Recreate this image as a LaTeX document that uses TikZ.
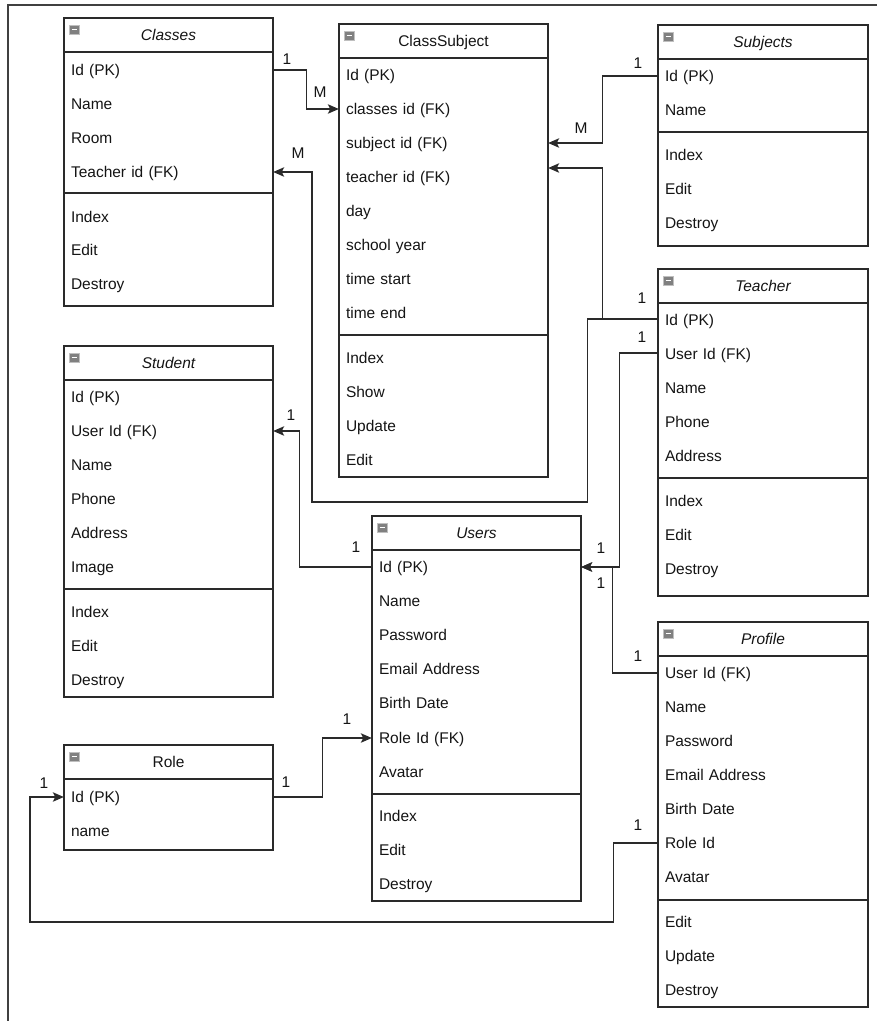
\documentclass[tikz,border=0pt]{standalone}
\usepackage{fontspec}
\setmainfont{Liberation Sans}
\usetikzlibrary{arrows.meta,calc}
\definecolor{txt}{HTML}{141414}
\definecolor{ln}{HTML}{2A2A2A}
\tikzset{
  box/.style={draw=ln, line width=1.1pt},
  conn/.style={draw=ln, line width=1.1pt, -{Stealth[length=11pt,width=9.5pt,inset=2.5pt]}},
  row/.style={anchor=center, text width=195pt, inner xsep=7pt, inner ysep=0pt, align=left,
    font=\fontsize{15.5}{18}\selectfont, text=txt, text height=10.7pt, text depth=3.3pt, yshift=-2pt},
  ttl/.style={anchor=center, inner sep=0pt, font=\fontsize{15.5}{18}\selectfont, text=txt,
    text height=10.7pt, text depth=3.3pt, yshift=-2pt},
  lbl/.style={anchor=center, inner sep=0pt, font=\fontsize{15.5}{18}\selectfont, text=txt},
  iconbox/.style={fill=black!50, draw=black!25, line width=0.8pt},
  frameline/.style={draw=black!75, line width=1.2pt}
}
\newcommand\Rw[4]{\node[row] (#1) at (#2,#3) {#4};}
\newcommand\ERicon[2]{%
  \draw[iconbox] (#1+5,#2+7) rectangle (#1+15,#2+16);
  \draw[white, line width=1.2pt] (#1+7.5,#2+11.5) -- (#1+12.5,#2+11.5);}
\begin{document}
\begin{tikzpicture}[x=1pt,y=-1pt]
\useasboundingbox (0,0) rectangle (877,1021);
\draw[frameline] (8,1021) -- (8,5) -- (877,5);

% ---------- Classes
\draw[box] (64,18) rectangle (273,306);
\draw[box] (64,52) -- (273,52);
\draw[box] (64,193) -- (273,193);
\ERicon{64}{18}
\node[ttl] (classes) at (168.5,35) {\itshape Classes};
\Rw{classes-id}{168.5}{70}{Id (PK)}
\Rw{classes-name}{168.5}{104}{Name}
\Rw{classes-room}{168.5}{138}{Room}
\Rw{classes-teacher}{168.5}{172}{Teacher id (FK)}
\Rw{classes-index}{168.5}{217}{Index}
\Rw{classes-edit}{168.5}{250}{Edit}
\Rw{classes-destroy}{168.5}{284}{Destroy}

% ---------- ClassSubject
\draw[box] (339,24) rectangle (548,477);
\draw[box] (339,58) -- (548,58);
\draw[box] (339,335) -- (548,335);
\ERicon{339}{24}
\node[ttl] (cs) at (443.5,41) {ClassSubject};
\Rw{cs-id}{443.5}{75}{Id (PK)}
\Rw{cs-classes}{443.5}{109}{classes id (FK)}
\Rw{cs-subject}{443.5}{143}{subject id (FK)}
\Rw{cs-teacher}{443.5}{177}{teacher id (FK)}
\Rw{cs-day}{443.5}{211}{day}
\Rw{cs-year}{443.5}{245}{school year}
\Rw{cs-start}{443.5}{279}{time start}
\Rw{cs-end}{443.5}{313}{time end}
\Rw{cs-index}{443.5}{358}{Index}
\Rw{cs-show}{443.5}{392}{Show}
\Rw{cs-update}{443.5}{426}{Update}
\Rw{cs-edit}{443.5}{460}{Edit}

% ---------- Subjects
\draw[box] (658,25) rectangle (868,246);
\draw[box] (658,59) -- (868,59);
\draw[box] (658,132) -- (868,132);
\ERicon{658}{25}
\node[ttl] (subjects) at (763,42) {\itshape Subjects};
\Rw{subjects-id}{762.5}{76}{Id (PK)}
\Rw{subjects-name}{762.5}{110}{Name}
\Rw{subjects-index}{762.5}{155}{Index}
\Rw{subjects-edit}{762.5}{189}{Edit}
\Rw{subjects-destroy}{762.5}{223}{Destroy}

% ---------- Teacher
\draw[box] (658,269) rectangle (868,596);
\draw[box] (658,303) -- (868,303);
\draw[box] (658,478) -- (868,478);
\ERicon{658}{269}
\node[ttl] (teacher) at (763,286) {\itshape Teacher};
\Rw{teacher-id}{762.5}{320}{Id (PK)}
\Rw{teacher-uid}{762.5}{354}{User Id (FK)}
\Rw{teacher-name}{762.5}{388}{Name}
\Rw{teacher-phone}{762.5}{422}{Phone}
\Rw{teacher-address}{762.5}{456}{Address}
\Rw{teacher-index}{762.5}{501}{Index}
\Rw{teacher-edit}{762.5}{535}{Edit}
\Rw{teacher-destroy}{762.5}{569}{Destroy}

% ---------- Student
\draw[box] (64,346) rectangle (273,697);
\draw[box] (64,380) -- (273,380);
\draw[box] (64,589) -- (273,589);
\ERicon{64}{346}
\node[ttl] (student) at (168.5,363) {\itshape Student};
\Rw{student-id}{168.5}{397}{Id (PK)}
\Rw{student-uid}{168.5}{431}{User Id (FK)}
\Rw{student-name}{168.5}{465}{Name}
\Rw{student-phone}{168.5}{499}{Phone}
\Rw{student-address}{168.5}{533}{Address}
\Rw{student-image}{168.5}{567}{Image}
\Rw{student-index}{168.5}{612}{Index}
\Rw{student-edit}{168.5}{646}{Edit}
\Rw{student-destroy}{168.5}{680}{Destroy}

% ---------- Users
\draw[box] (372,516) rectangle (581,901);
\draw[box] (372,550) -- (581,550);
\draw[box] (372,794) -- (581,794);
\ERicon{372}{516}
\node[ttl] (users) at (476.5,533) {\itshape Users};
\Rw{users-id}{476.5}{567}{Id (PK)}
\Rw{users-name}{476.5}{601}{Name}
\Rw{users-password}{476.5}{635}{Password}
\Rw{users-email}{476.5}{669}{Email Address}
\Rw{users-birth}{476.5}{703}{Birth Date}
\Rw{users-role}{476.5}{738}{Role Id (FK)}
\Rw{users-avatar}{476.5}{772}{Avatar}
\Rw{users-index}{476.5}{816}{Index}
\Rw{users-edit}{476.5}{850}{Edit}
\Rw{users-destroy}{476.5}{884}{Destroy}

% ---------- Role
\draw[box] (64,745) rectangle (273,850);
\draw[box] (64,779) -- (273,779);
\ERicon{64}{745}
\node[ttl] (role) at (168.5,762) {Role};
\Rw{role-id}{168.5}{797}{Id (PK)}
\Rw{role-name}{168.5}{831}{name}

% ---------- Profile
\draw[box] (658,622) rectangle (868,1007);
\draw[box] (658,656) -- (868,656);
\draw[box] (658,900) -- (868,900);
\ERicon{658}{622}
\node[ttl] (profile) at (763,639) {\itshape Profile};
\Rw{profile-uid}{762.5}{673}{User Id (FK)}
\Rw{profile-name}{762.5}{707}{Name}
\Rw{profile-password}{762.5}{741}{Password}
\Rw{profile-email}{762.5}{775}{Email Address}
\Rw{profile-birth}{762.5}{809}{Birth Date}
\Rw{profile-role}{762.5}{843}{Role Id}
\Rw{profile-avatar}{762.5}{877}{Avatar}
\Rw{profile-edit}{762.5}{922}{Edit}
\Rw{profile-update}{762.5}{956}{Update}
\Rw{profile-destroy}{762.5}{990}{Destroy}

% ---------- connectors (row nodes are shifted 2pt down; compensate)
\draw[conn] ($(classes-id.east)+(0,-2)$) -- ++(33,0) |- ($(cs-classes.west)+(0,-2)$);
\draw[conn] ($(subjects-id.west)+(0,-2)$) -- ++(-55,0) |- ($(cs-subject.east)+(0,-2)$);
\draw[conn] ($(teacher-id.west)+(0,-3)$) -- ++(-55,0) |- ($(cs-teacher.east)+(0,-11)$);
\draw[conn] ($(teacher-id.west)+(0,-3)$) -- ++(-70,0) |- (312,502) |- ($(classes-teacher.east)+(0,-2)$);
\draw[conn] ($(teacher-uid.west)+(0,-3)$) -- ++(-38,0) |- ($(users-id.east)+(0,-2)$);
\draw[conn] ($(profile-uid.west)+(0,-2)$) -- ++(-45,0) |- ($(users-id.east)+(0,-2)$);
\draw[conn] ($(users-id.west)+(0,-2)$) -- ++(-72,0) |- ($(student-uid.east)+(0,-2)$);
\draw[conn] ($(role-id.east)+(0,-2)$) -- ++(49,0) |- ($(users-role.west)+(0,-2)$);
\draw[conn] ($(profile-role.west)+(0,-2)$) -- ++(-44,0) |- (30,922) |- ($(role-id.west)+(0,-2)$);

% ---------- multiplicity labels
\node[lbl] (l1) at (287,59) {1};
\node[lbl] (l2) at (320,92) {M};
\node[lbl] (l3) at (638,63) {1};
\node[lbl] (l4) at (581,128) {M};
\node[lbl] (l5) at (642,298) {1};
\node[lbl] (l6) at (298,153) {M};
\node[lbl] (l7) at (642,337) {1};
\node[lbl] (l8) at (601,548) {1};
\node[lbl] (l9) at (601,583) {1};
\node[lbl] (l10) at (638,656) {1};
\node[lbl] (l11) at (291,415) {1};
\node[lbl] (l12) at (356,547) {1};
\node[lbl] (l13) at (347,719) {1};
\node[lbl] (l14) at (286,782) {1};
\node[lbl] (l15) at (638,825) {1};
\node[lbl] (l16) at (44,783) {1};
\end{tikzpicture}
\end{document}
